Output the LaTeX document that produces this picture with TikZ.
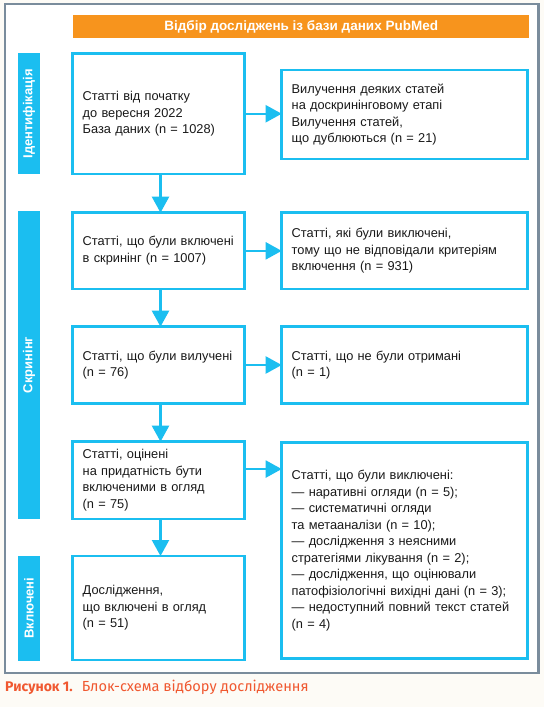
\documentclass[tikz,border=0pt]{standalone}
\usepackage{fontspec}
\setmainfont{Liberation Sans}
\newfontfamily\capfamily{Fira Sans}
\usetikzlibrary{arrows.meta}
\definecolor{flowcyan}{RGB}{27,190,240}
\definecolor{headorange}{RGB}{247,148,29}
\definecolor{framegray}{RGB}{122,140,156}
\definecolor{captionred}{RGB}{240,88,48}
\definecolor{paper}{RGB}{253,251,246}
\newcommand{\flowtextfont}{\fontsize{12.8}{16.5}\selectfont}
\newcommand{\flowheadfont}{\bfseries\fontsize{13}{15}\selectfont}
\begin{document}
\begin{tikzpicture}[x=1pt, y=-1pt, font=\flowtextfont,
  box/.style={draw=flowcyan, line width=2.5pt, outer sep=0pt, inner xsep=10pt, anchor=north west, align=left, text=black!90},
  lbox/.style={box, text width=151.6pt, minimum width=171.6pt},
  rbox/.style={box, text width=225.7pt, minimum width=245.7pt},
  side/.style={fill=flowcyan, text=white, font=\flowheadfont, rotate=90, minimum height=22pt, inner sep=0pt},
  flow/.style={flowcyan, line width=2.2pt, -{Triangle[length=16pt,width=17pt]}}]
% page, frame and heading (pixel coordinates, y down)
\useasboundingbox[fill=paper] (0,0) rectangle (544,707);
\draw[framegray, line width=2.5pt, fill=white] (5,4) rectangle (538.5,673);
\node[fill=headorange, text=white, font=\bfseries\fontsize{13.5}{15}\selectfont, minimum width=456pt, minimum height=23pt, anchor=north west, inner sep=0pt] (title) at (73,15) {Відбір досліджень із бази даних PubMed};
\foreach \nm/\yc/\len/\txt in {s1/113.8/121pt/Ідентифікація, s2/365/308.6pt/Скринінг, s3/608.3/104.7pt/Включені}
  \node[side, minimum width=\len] (\nm) at (29,\yc) {\txt};
% left column
\node[lbox, minimum height=120.5pt] (b1) at (72.7,53.5) {Статті від початку\\до вересня 2022\\База даних (n = 1028)};
\node[lbox, minimum height=76.3pt] (b2) at (72.7,212.7) {Статті, що були включені\\в скринінг (n = 1007)};
\node[lbox, minimum height=76.6pt] (b3) at (72.7,326.7) {Статті, що були вилучені\\(n = 76)};
\node[lbox, minimum height=77.3pt] (b4) at (72.7,441.7) {Статті, оцінені\\на придатність бути\\включеними в огляд\\(n = 75)};
\node[lbox, minimum height=104pt] (b5) at (72.7,556) {Дослідження,\\що включені в огляд\\(n = 51)};
% right column
\node[rbox, minimum height=89pt] (r1) at (281.7,70) {Вилучення деяких статей\\на доскринінговому етапі\\Вилучення статей,\\що дублюються (n = 21)};
\node[rbox, minimum height=76.3pt] (r2) at (281.7,212.7) {Статті, які були виключені,\\тому що не відповідали критеріям\\включення (n = 931)};
\node[rbox, minimum height=76.6pt] (r3) at (281.7,326.7) {Статті, що не були отримані\\(n = 1)};
\node[rbox, minimum height=215.6pt] (r4) at (281.7,442.7) {Статті, що були виключені:\\— наративні огляди (n = 5);\\— систематичні огляди\\та метааналізи (n = 10);\\— дослідження з неясними\\стратегіями лікування (n = 2);\\— дослідження, що оцінювали\\патофізіологічні вихідні дані (n = 3);\\— недоступний повний текст статей\\(n = 4)};
% arrows
\foreach \a/\b in {b1/b2,b2/b3,b3/b4,b4/b5}
  \draw[flow] ([xshift=2pt]\a.south) -- ([xshift=2pt]\b.north);
\foreach \a/\b in {b1/r1,b2/r2,b3/r3}
  \draw[flow] (\a.east) -- (\a.east -| \b.west);
\draw[flow] ([yshift=11.3pt]b4.east) -- ([yshift=11.3pt]b4.east -| r4.west);
\node[anchor=base west, text=captionred, font=\capfamily\fontsize{14}{16}\selectfont, inner sep=0pt] (caption) at (5,691) {\textbf{Рисунок 1.}\hspace{9pt}{\fontsize{14.6}{16}\selectfont Блок-схема відбору дослідження}};
\end{tikzpicture}
\end{document}
